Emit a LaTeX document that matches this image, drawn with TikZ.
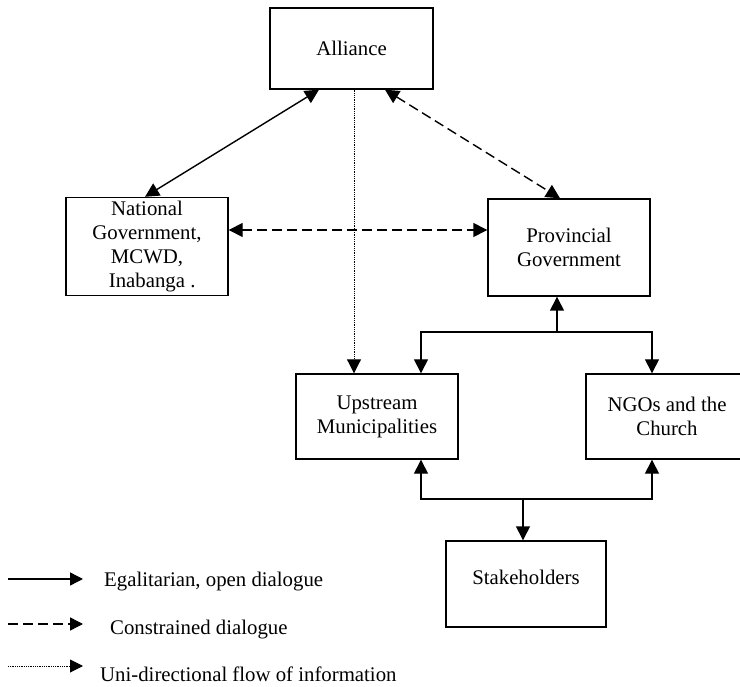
\documentclass[tikz,border=0pt]{standalone}
\usepackage{fontspec}
\setmainfont{Liberation Serif}
\usetikzlibrary{arrows.meta}

\begin{document}
\begin{tikzpicture}[x=1pt, y=-1pt, font=\fontsize{20.8}{24}\selectfont,
    >={Triangle[length=14pt,width=14pt]},
    box/.style = {draw, line width=1.4pt, minimum width=162pt, align=center, inner sep=0pt},
    opendlg/.style = {line width=1.4pt},
    limdlg/.style = {line width=1.4pt, dash pattern=on 10pt off 5pt},
    infoflow/.style = {line width=1pt, dash pattern=on 1pt off 0.8pt},
    key/.style = {-{Triangle[length=13pt,width=13pt]}}]
\useasboundingbox (0,0) rectangle (740,687);
\node[box, minimum width=163pt, minimum height=81pt] (alliance) at (351.5,48.5) {Alliance};
\node[box, minimum height=98pt] (national) at (147,246.5)
    {National\\Government,\\MCWD,\\Inabanga\rlap{ .}};
\node[box, minimum height=97pt] (provincial) at (569,247.5) {Provincial\\Government};
\node[box, minimum height=85pt] (upstream) at (377,416.5) {Upstream\\Municipalities};
\node[box, minimum height=85pt] (ngos) at (667,416.5) {NGOs and the\\Church};
\node[box, minimum width=160pt, minimum height=86pt, text height=8pt, text depth=8pt]
    (stake) at (526,584) {Stakeholders};

\draw[opendlg, <->] ([xshift=-32.5pt]alliance.south) -- ([xshift=-2pt]national.north);
\draw[limdlg, <->] ([xshift=33.5pt]alliance.south) -- ([xshift=-9pt]provincial.north);
\draw[limdlg, <->] ([yshift=16.5pt]national.east) -- ([yshift=17.5pt]provincial.west);
\draw[infoflow, ->] ([xshift=2.5pt]alliance.south) -- ([xshift=-23pt]upstream.north);

\coordinate (pjoin) at (557,332);
\draw[opendlg, ->] (pjoin) -- (pjoin |- provincial.south);
\draw[opendlg, ->] (pjoin) -| ([xshift=44pt]upstream.north);
\draw[opendlg, ->] (pjoin) -| ([xshift=-15pt]ngos.north);

\coordinate (sjoin) at (523,499);
\draw[opendlg, ->] (sjoin) -| ([xshift=44pt]upstream.south);
\draw[opendlg, ->] (sjoin) -| ([xshift=-15pt]ngos.south);
\draw[opendlg, ->] (sjoin) -- (sjoin |- stake.north);

% legend
\coordinate (k1) at (8,579);
\coordinate (k2) at (8,624);
\coordinate (k3) at (8,666);
\draw[opendlg, key] (k1) -- ++(75,0);
\draw[limdlg, key] (k2) -- ++(75,0);
\draw[infoflow, key] (k3) -- ++(75,0);
\node[anchor=base west, inner sep=0pt] (t1) at (104,586) {Egalitarian, open dialogue};
\node[anchor=base west, inner sep=0pt] (t2) at (110,634) {Constrained dialogue};
\node[anchor=base west, inner sep=0pt] (t3) at (100,681) {Uni-directional flow of information};
\end{tikzpicture}
\end{document}
